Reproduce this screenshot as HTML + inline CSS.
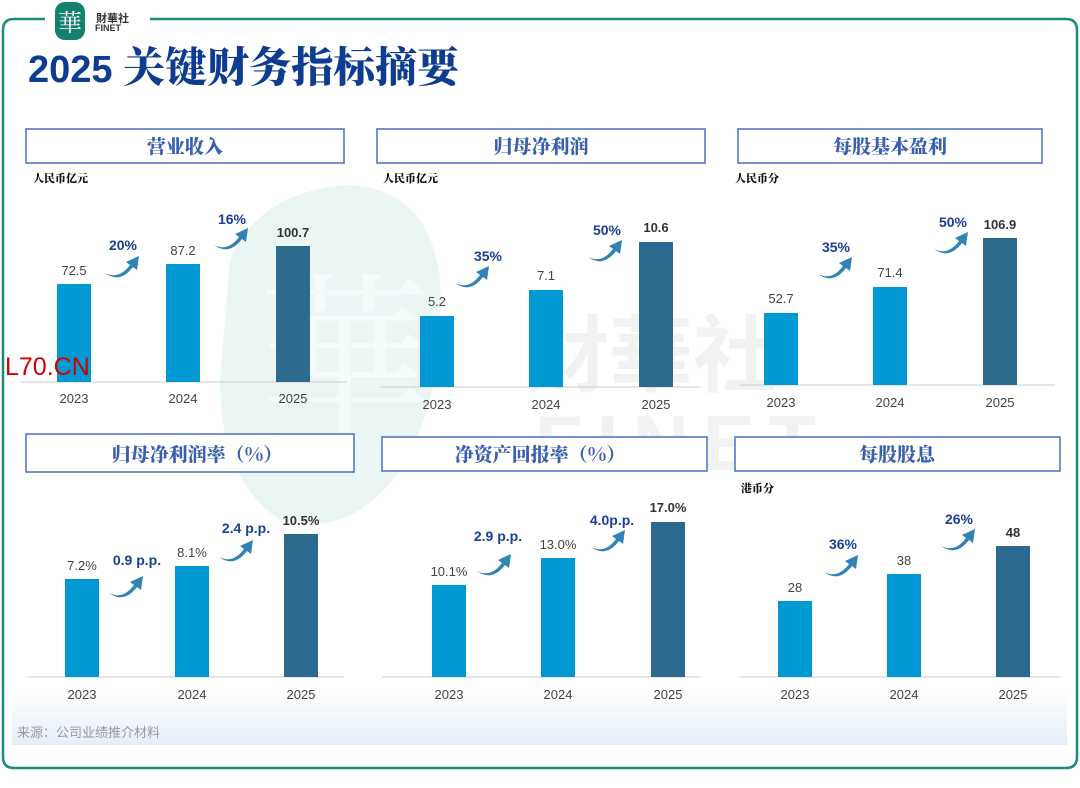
<!DOCTYPE html>
<html><head><meta charset="utf-8"><style>
html,body{margin:0;padding:0;background:#fff;}
svg{display:block;font-family:"Liberation Sans","Noto Sans CJK SC",sans-serif;}
.hd{font-family:"Noto Serif CJK SC","Noto Sans CJK SC",serif;font-weight:900;fill:#3a5fb0;font-size:19px;}
.yr{font-size:13px;fill:#444;}
.v{font-size:13px;fill:#444;}
.vb{font-size:13px;fill:#333;font-weight:bold;}
.g{font-size:14px;fill:#1a3f96;font-weight:bold;}
.u{font-size:11px;font-weight:900;fill:#111;font-family:"Noto Serif CJK SC","Noto Sans CJK SC",serif;}
</style></head><body>
<svg width="1080" height="788" viewBox="0 0 1080 788" xmlns="http://www.w3.org/2000/svg">
<defs>
<linearGradient id="bg" x1="0" y1="0" x2="0" y2="1"><stop offset="0" stop-color="#fff"/><stop offset="1" stop-color="#e6eef8"/></linearGradient>
<g id="ar"><path d="M0,17 Q14,24 25,9 L21,6 L34,0 L32,14 L28,11 Q15,28 0,17 Z" fill="#2f84b5"/></g>
</defs>
<!-- frame -->
<path d="M45,19 L14,19 Q3,19 3,30 L3,757 Q3,768 14,768 L1066,768 Q1077,768 1077,757 L1077,30 Q1077,19 1066,19 L150,19" fill="none" stroke="#1a8a80" stroke-width="2.5"/>
<!-- logo -->
<rect x="55" y="2" width="30" height="38" rx="10" fill="#16806f"/>
<text x="70" y="31" font-size="24" fill="#fff" text-anchor="middle" font-family="Noto Serif CJK SC,serif">華</text>
<text x="96" y="22" font-size="11" font-weight="bold" fill="#333">財華社</text>
<text x="95" y="31" font-size="9" font-weight="bold" fill="#333">FINET</text>
<!-- title -->
<text x="28" y="82" font-size="38" font-weight="bold" fill="#0d3c91">2025 <tspan font-size="42" font-weight="900" font-family="Noto Serif CJK SC,serif">关键财务指标摘要</tspan></text>
<!-- watermark -->
<path d="M230,260 Q260,190 350,185 Q430,190 440,280 Q445,400 400,470 Q350,540 280,520 Q220,480 220,380 Z" fill="#dcefec" opacity="0.6"/>
<text x="258" y="420" font-size="175" fill="#fff" opacity="0.55" font-family="Noto Serif CJK SC,serif">華</text>
<text x="525" y="385" font-size="84" font-weight="bold" fill="#f2f2f2">財華社</text>
<text x="535" y="470" font-size="78" font-weight="bold" fill="#f2f2f2" letter-spacing="14">FINET</text>
<!-- footer band -->
<rect x="12" y="690" width="1055" height="55" fill="url(#bg)"/>
<text x="17" y="737" font-size="13" fill="#999">来源：公司业绩推介材料</text>

<!-- Panel 1 -->
<rect x="26" y="129" width="318" height="34" fill="#fff" stroke="#4a6fc4" stroke-width="1.5"/>
<text class="hd" x="185" y="153" text-anchor="middle">营业收入</text>
<text class="u" x="33" y="182">人民币亿元</text>
<line x1="20" y1="382" x2="347" y2="382" stroke="#ccc"/>
<rect x="57" y="284" width="34" height="98" fill="#0099d4"/>
<rect x="166" y="264" width="34" height="118" fill="#0099d4"/>
<rect x="276" y="246" width="34" height="136" fill="#2e6a8e"/>
<text class="v" x="74" y="275" text-anchor="middle">72.5</text>
<text class="v" x="183" y="255" text-anchor="middle">87.2</text>
<text class="vb" x="293" y="237" text-anchor="middle">100.7</text>
<text class="yr" x="74" y="403" text-anchor="middle">2023</text>
<text class="yr" x="183" y="403" text-anchor="middle">2024</text>
<text class="yr" x="293" y="403" text-anchor="middle">2025</text>
<text class="g" x="123" y="250" text-anchor="middle">20%</text><use href="#ar" x="105" y="256"/>
<text class="g" x="232" y="224" text-anchor="middle">16%</text><use href="#ar" x="214" y="228"/>

<!-- Panel 2 -->
<rect x="377" y="129" width="328" height="34" fill="#fff" stroke="#4a6fc4" stroke-width="1.5"/>
<text class="hd" x="541" y="153" text-anchor="middle">归母净利润</text>
<text class="u" x="383" y="182">人民币亿元</text>
<line x1="380" y1="387" x2="700" y2="387" stroke="#ccc"/>
<rect x="420" y="316" width="34" height="71" fill="#0099d4"/>
<rect x="529" y="290" width="34" height="97" fill="#0099d4"/>
<rect x="639" y="242" width="34" height="145" fill="#2e6a8e"/>
<text class="v" x="437" y="306" text-anchor="middle">5.2</text>
<text class="v" x="546" y="280" text-anchor="middle">7.1</text>
<text class="vb" x="656" y="232" text-anchor="middle">10.6</text>
<text class="yr" x="437" y="409" text-anchor="middle">2023</text>
<text class="yr" x="546" y="409" text-anchor="middle">2024</text>
<text class="yr" x="656" y="409" text-anchor="middle">2025</text>
<text class="g" x="488" y="261" text-anchor="middle">35%</text><use href="#ar" x="455" y="266"/>
<text class="g" x="607" y="235" text-anchor="middle">50%</text><use href="#ar" x="588" y="240"/>

<!-- Panel 3 -->
<rect x="738" y="129" width="304" height="34" fill="#fff" stroke="#4a6fc4" stroke-width="1.5"/>
<text class="hd" x="890" y="153" text-anchor="middle">每股基本盈利</text>
<text class="u" x="735" y="182">人民币分</text>
<line x1="740" y1="385" x2="1055" y2="385" stroke="#ccc"/>
<rect x="764" y="313" width="34" height="72" fill="#0099d4"/>
<rect x="873" y="287" width="34" height="98" fill="#0099d4"/>
<rect x="983" y="238" width="34" height="147" fill="#2e6a8e"/>
<text class="v" x="781" y="303" text-anchor="middle">52.7</text>
<text class="v" x="890" y="277" text-anchor="middle">71.4</text>
<text class="vb" x="1000" y="229" text-anchor="middle">106.9</text>
<text class="yr" x="781" y="407" text-anchor="middle">2023</text>
<text class="yr" x="890" y="407" text-anchor="middle">2024</text>
<text class="yr" x="1000" y="407" text-anchor="middle">2025</text>
<text class="g" x="836" y="252" text-anchor="middle">35%</text><use href="#ar" x="818" y="257"/>
<text class="g" x="953" y="227" text-anchor="middle">50%</text><use href="#ar" x="934" y="232"/>

<!-- Panel 4 -->
<rect x="26" y="434" width="328" height="38" fill="#fff" stroke="#4a6fc4" stroke-width="1.5"/>
<text class="hd" x="197" y="461" text-anchor="middle">归母净利润率（%）</text>
<line x1="27" y1="677" x2="344" y2="677" stroke="#ccc"/>
<rect x="65" y="579" width="34" height="98" fill="#0099d4"/>
<rect x="175" y="566" width="34" height="111" fill="#0099d4"/>
<rect x="284" y="534" width="34" height="143" fill="#2e6a8e"/>
<text class="v" x="82" y="570" text-anchor="middle">7.2%</text>
<text class="v" x="192" y="557" text-anchor="middle">8.1%</text>
<text class="vb" x="301" y="525" text-anchor="middle">10.5%</text>
<text class="yr" x="82" y="699" text-anchor="middle">2023</text>
<text class="yr" x="192" y="699" text-anchor="middle">2024</text>
<text class="yr" x="301" y="699" text-anchor="middle">2025</text>
<text class="g" x="137" y="565" text-anchor="middle">0.9 p.p.</text><use href="#ar" x="109" y="576"/>
<text class="g" x="246" y="533" text-anchor="middle">2.4 p.p.</text><use href="#ar" x="219" y="540"/>

<!-- Panel 5 -->
<rect x="382" y="437" width="325" height="34" fill="#fff" stroke="#4a6fc4" stroke-width="1.5"/>
<text class="hd" x="540" y="461" text-anchor="middle">净资产回报率（%）</text>
<line x1="382" y1="677" x2="700" y2="677" stroke="#ccc"/>
<rect x="432" y="585" width="34" height="92" fill="#0099d4"/>
<rect x="541" y="558" width="34" height="119" fill="#0099d4"/>
<rect x="651" y="522" width="34" height="155" fill="#2e6a8e"/>
<text class="v" x="449" y="576" text-anchor="middle">10.1%</text>
<text class="v" x="558" y="549" text-anchor="middle">13.0%</text>
<text class="vb" x="668" y="512" font-size="11" text-anchor="middle">17.0%</text>
<text class="yr" x="449" y="699" text-anchor="middle">2023</text>
<text class="yr" x="558" y="699" text-anchor="middle">2024</text>
<text class="yr" x="668" y="699" text-anchor="middle">2025</text>
<text class="g" x="498" y="541" text-anchor="middle">2.9 p.p.</text><use href="#ar" x="477" y="554"/>
<text class="g" x="612" y="525" text-anchor="middle">4.0p.p.</text><use href="#ar" x="591" y="530"/>

<!-- Panel 6 -->
<rect x="735" y="437" width="325" height="34" fill="#fff" stroke="#4a6fc4" stroke-width="1.5"/>
<text class="hd" x="897" y="461" text-anchor="middle">每股股息</text>
<text class="u" x="741" y="492">港币分</text>
<line x1="740" y1="677" x2="1060" y2="677" stroke="#ccc"/>
<rect x="778" y="601" width="34" height="76" fill="#0099d4"/>
<rect x="887" y="574" width="34" height="103" fill="#0099d4"/>
<rect x="996" y="546" width="34" height="131" fill="#2e6a8e"/>
<text class="v" x="795" y="592" text-anchor="middle">28</text>
<text class="v" x="904" y="565" text-anchor="middle">38</text>
<text class="vb" x="1013" y="537" text-anchor="middle">48</text>
<text class="yr" x="795" y="699" text-anchor="middle">2023</text>
<text class="yr" x="904" y="699" text-anchor="middle">2024</text>
<text class="yr" x="1013" y="699" text-anchor="middle">2025</text>
<text class="g" x="843" y="549" text-anchor="middle">36%</text><use href="#ar" x="824" y="555"/>
<text class="g" x="959" y="524" text-anchor="middle">26%</text><use href="#ar" x="941" y="529"/>

<text x="5" y="375" font-size="25" fill="#d40000">L70.CN</text>
</svg>
</body></html>
